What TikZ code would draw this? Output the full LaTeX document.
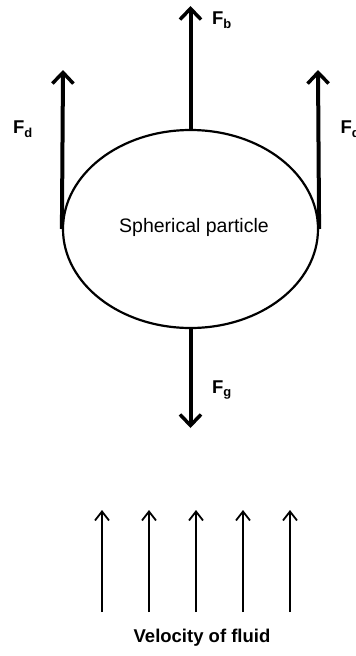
\documentclass[tikz,border=0pt]{standalone}
\usepackage{fontspec}
\setmainfont{Liberation Sans}
\usetikzlibrary{arrows.meta,positioning,shapes.geometric}

\begin{document}
\begin{tikzpicture}[x=1pt, y=-1pt,
  force/.style={-{Straight Barb[length=11pt,width=21pt,line width=3.5pt]}, line width=4pt},
  flow/.style={-{Straight Barb[length=9pt,width=14pt,line width=1.8pt]}, line width=1.8pt},
  lbl/.style={font=\fontsize{18.5}{21}\selectfont\bfseries}]
\useasboundingbox (0,0) rectangle (356,656);
\node[draw, ellipse, line width=2.2pt, minimum width=255pt, minimum height=198pt, inner sep=0pt] (particle) at (190.5,229) {};
\node[font=\fontsize{19.5}{22}\selectfont, xshift=3.5pt, yshift=2pt] (name) at (particle.center) {Spherical particle};
% forces on the particle
\coordinate (fb) at (190.5,6);
\coordinate (fdl) at (63,70);
\coordinate (fdr) at (318,70);
\coordinate (fg) at (190.5,428);
\draw[force] (particle.north) -- (fb);
\draw[force] (particle.west) -- (fdl);
\draw[force] (particle.east) -- (fdr);
\draw[force] (particle.south) -- (fg);
\node[lbl] (lb) at (222,20) {F\textsubscript{b}};
\node[lbl] (ldl) at (23,129) {F\textsubscript{d}};
\node[lbl, anchor=west] (ldr) at (337,129) {F\textsubscript{d}};
\node[lbl] (lg) at (222,390) {F\textsubscript{g}};
% fluid flow
\foreach \i/\x in {1/102,2/149,3/196,4/243,5/290}{
  \coordinate (base\i) at (\x,612);
  \coordinate (tip\i) at (\x,510);
  \draw[flow] (base\i) -- (tip\i);
}
\node[lbl] (vel) at (202,638) {Velocity of fluid};
\end{tikzpicture}
\end{document}
